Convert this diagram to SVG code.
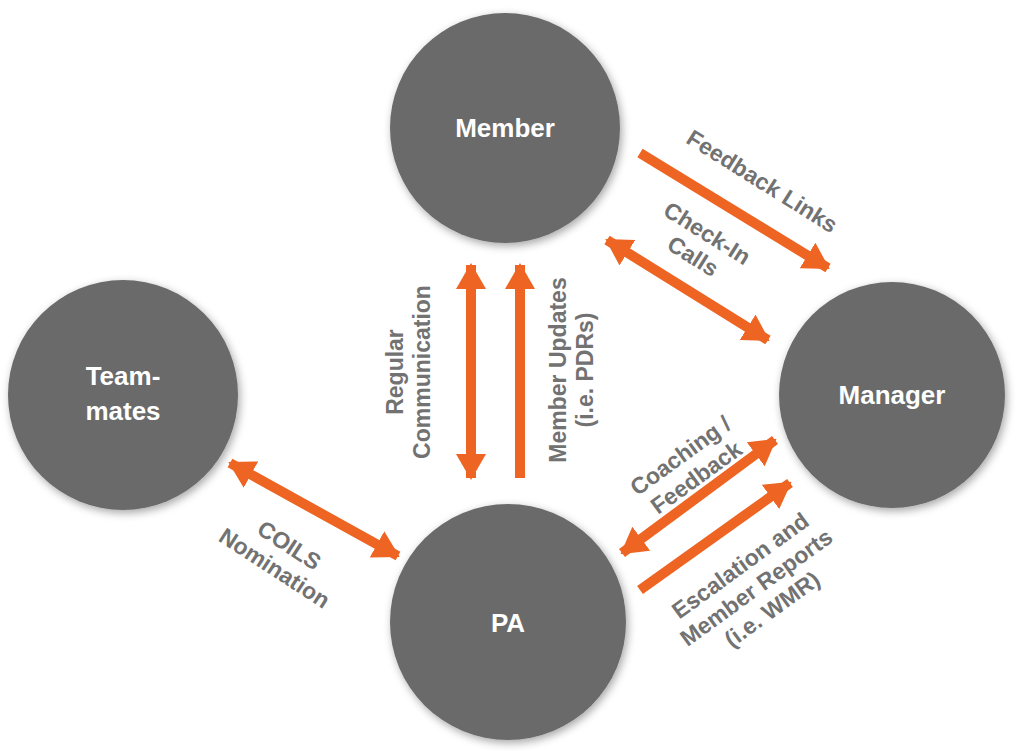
<svg xmlns="http://www.w3.org/2000/svg" width="1024" height="751" viewBox="0 0 1024 751">
<defs>
<marker id="ah" markerUnits="userSpaceOnUse" markerWidth="26" markerHeight="30" refX="24" refY="15" orient="auto-start-reverse"><path d="M0,0 L26,15 L0,30 Z" fill="#EE6422"/></marker>
<filter id="sh" x="-20%" y="-20%" width="140%" height="140%"><feDropShadow dx="2" dy="3" stdDeviation="4" flood-color="#000" flood-opacity="0.35"/></filter>
</defs>
<style>
.n{fill:#6b6b6b;filter:url(#sh)}
.nt{fill:#fff;font:bold 26px "Liberation Sans",Arial,sans-serif;text-anchor:middle}
.c line{stroke:#EE6422;stroke-width:10}
.l{fill:#727272;font:bold 23px "Liberation Sans",Arial,sans-serif;text-anchor:middle}
</style>
<rect width="1024" height="751" fill="#fff"/>
<g id="member"><circle class="n" cx="505" cy="128" r="115"/><text class="nt" x="505" y="137">Member</text></g>
<g id="teammates"><circle class="n" cx="123" cy="395" r="115"/><text class="nt" x="123" y="385">Team-</text><text class="nt" x="123" y="420">mates</text></g>
<g id="manager"><circle class="n" cx="892" cy="395" r="113"/><text class="nt" x="892" y="404">Manager</text></g>
<g id="pa"><circle class="n" cx="508" cy="622" r="118"/><text class="nt" x="508" y="632">PA</text></g>
<g class="c" id="connectors">
<line x1="640" y1="153" x2="828" y2="268" marker-end="url(#ah)"/>
<line x1="607" y1="240" x2="768" y2="340" marker-start="url(#ah)" marker-end="url(#ah)"/>
<line x1="471" y1="265" x2="471" y2="478" marker-start="url(#ah)" marker-end="url(#ah)"/>
<line x1="520" y1="478" x2="520" y2="265" marker-end="url(#ah)"/>
<line x1="230" y1="463" x2="398" y2="556" marker-start="url(#ah)" marker-end="url(#ah)"/>
<line x1="622" y1="553" x2="775" y2="440" marker-start="url(#ah)" marker-end="url(#ah)"/>
<line x1="640" y1="590" x2="790" y2="483" marker-end="url(#ah)"/>
</g>
<g id="labels">
<text class="l" transform="translate(758,188) rotate(32)">Feedback Links</text>
<text class="l" transform="translate(703,240) rotate(32)"><tspan x="0" y="0">Check-In</tspan><tspan x="0" y="27">Calls</tspan></text>
<text class="l" transform="translate(403,372) rotate(-90)"><tspan x="0" y="0">Regular</tspan><tspan x="0" y="27">Communication</tspan></text>
<text class="l" transform="translate(566,370) rotate(-90)"><tspan x="0" y="0">Member Updates</tspan><tspan x="0" y="27">(i.e. PDRs)</tspan></text>
<text class="l" transform="translate(285,552) rotate(33)"><tspan x="0" y="0">COILS</tspan><tspan x="0" y="27">Nomination</tspan></text>
<text class="l" transform="translate(685,462) rotate(-36)"><tspan x="0" y="0">Coaching /</tspan><tspan x="0" y="27">Feedback</tspan></text>
<text class="l" transform="translate(745,572) rotate(-36)"><tspan x="0" y="0">Escalation and</tspan><tspan x="0" y="27">Member Reports</tspan><tspan x="0" y="54">(i.e. WMR)</tspan></text>
</g>
</svg>
